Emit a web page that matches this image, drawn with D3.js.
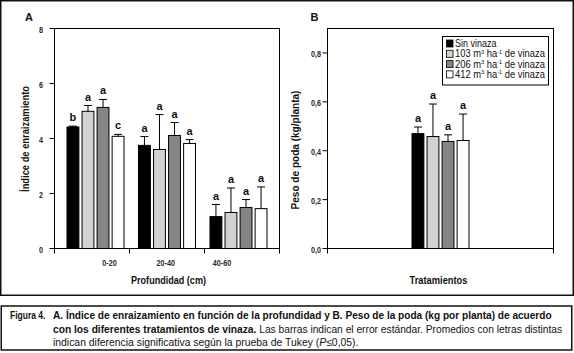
<!DOCTYPE html>
<html>
<head>
<meta charset="utf-8">
<script src="https://cdn.jsdelivr.net/npm/d3@7"></script>
<style>
  body { margin: 0; background: #fff; }
  svg { display: block; font-family: 'Liberation Sans', Arial, sans-serif; }
  .tick-label { font-size: 8.5px; font-weight: bold; fill: #2a2a2a; }
  .axis-title { font-size: 10px; font-weight: bold; fill: #111; }
  .letter { font-size: 11px; font-weight: bold; fill: #111; }
  .caption { font-size: 11px; fill: #111; }
</style>
</head>
<body>
<svg id="chart" width="574" height="353"></svg>
<script>
// ---- data ----
const depths = ['0-20', '20-40', '40-60'];
const treatments = ['Sin vinaza', '103 m³ ha⁻¹ de vinaza', '206 m³ ha⁻¹ de vinaza', '412 m³ ha⁻¹ de vinaza'];
const treatmentFill = ['#000000', '#d2d2d2', '#858585', '#ffffff'];

// panel A: rooting index by depth (rows) and treatment (cols)
const rootIndex = [
    [4.42, 4.99, 5.13, 4.08],
    [3.75, 3.60, 4.11, 3.82],
    [1.16, 1.31, 1.49, 1.45]
];
const rootErr = [
    [0.03, 0.21, 0.29, 0.07],
    [0.32, 1.27, 0.47, 0.14],
    [0.44, 0.89, 0.29, 0.79]
];
const rootLetters = [
    ['b', 'a', 'a', 'c'],
    ['a', 'a', 'a', 'a'],
    ['a', 'a', 'a', 'a']
];
const ticksA = [0, 2, 4, 6, 8];

// panel B: pruning weight by treatment
const pruneWeight = [0.470, 0.458, 0.438, 0.442];
const pruneErr = [0.027, 0.133, 0.027, 0.108];
const pruneLetters = ['a', 'a', 'a', 'a'];
const ticksB = [0, 0.2, 0.4, 0.6, 0.8];

const svg = d3.select('#chart');

// the original uses a narrow font: squeeze text horizontally to a given width
// (x, y = anchor point, rot = optional rotation)
function fit(sel, x, y, w, rot) {
    sel.each(function () {
        const k = w / this.getComputedTextLength();
        d3.select(this).attr('x', 0).attr('y', 0)
            .attr('transform', `translate(${x},${y})${rot ? ` rotate(${rot})` : ''} scale(${k},1)`);
    });
}
function condense(sel, k) {
    sel.each(function () {
        const x = +this.getAttribute('x'), y = +this.getAttribute('y');
        d3.select(this).attr('x', 0).attr('y', 0)
            .attr('transform', `translate(${x},${y}) scale(${k},1)`);
    });
}

// frames around figure and caption
svg.append('rect').attr('x', 0.75).attr('y', 0.75).attr('width', 572.5).attr('height', 294.5)
    .attr('fill', 'none').attr('stroke', '#111').attr('stroke-width', 1.5);
svg.append('rect').attr('x', 1.25).attr('y', 306).attr('width', 570.5).attr('height', 44)
    .attr('fill', 'none').attr('stroke', '#111').attr('stroke-width', 1.5);

// bar position inside a group
const inner = d3.scaleBand().domain(treatments).range([0, 57]).paddingInner(0.21);

function drawFrame(g, x0, x1, y0, y1) {
    g.append('rect').attr('x', x0).attr('y', y1).attr('width', x1 - x0).attr('height', y0 - y1)
        .attr('fill', 'none').attr('stroke', '#000').attr('stroke-width', 1);
}

function drawBar(g, x, w, yScale, v, e, letter) {
    const top = yScale(v), errTop = yScale(v + e), cx = x + w / 2;
    g.append('rect').attr('x', x).attr('y', top).attr('width', w).attr('height', yScale(0) - top)
        .attr('stroke', '#000').attr('stroke-width', 1);
    g.append('line').attr('x1', cx).attr('x2', cx).attr('y1', top).attr('y2', errTop)
        .attr('stroke', '#000').attr('stroke-width', 1);
    g.append('line').attr('x1', cx - 4).attr('x2', cx + 4).attr('y1', errTop).attr('y2', errTop)
        .attr('stroke', '#000').attr('stroke-width', 1);
    g.append('text').attr('class', 'letter').attr('x', cx).attr('y', errTop - 5)
        .attr('text-anchor', 'middle').attr('fill', '#111').text(letter);
}

function yAxis(g, scale, x, ticks, fmt, gap) {
    ticks.forEach(t => {
        g.append('line').attr('x1', x - 5).attr('x2', x).attr('y1', scale(t)).attr('y2', scale(t))
            .attr('stroke', '#000');
        g.append('text').attr('class', 'tick-label').attr('x', x - gap).attr('y', scale(t) + 4.5)
            .attr('text-anchor', 'end').text(fmt(t));
    });
}

// ---------- panel A ----------
const gA = svg.append('g');
const yA = d3.scaleLinear().domain([0, 8]).range([248.5, 28.5]);
const xEdgeA = d3.scaleLinear().domain([0, 3]).range([54.5, 279.5]);
const xGroupA = d3.scaleLinear().domain([0, 2]).range([95.5, 238.5]);
const xLabelA = d3.scaleLinear().domain([0, 2]).range([109.5, 222]);

drawFrame(gA, 54.5, 279.5, 248.5, 28.5);
yAxis(gA, yA, 54.5, ticksA, d3.format('d'), 11.5);
[0, 1, 2, 3].forEach(i => {
    gA.append('line').attr('x1', xEdgeA(i)).attr('x2', xEdgeA(i)).attr('y1', 248.5).attr('y2', 253.5)
        .attr('stroke', '#000');
});
depths.forEach((d, i) => {
    gA.append('text').attr('class', 'tick-label').attr('x', xLabelA(i)).attr('y', 265.5)
        .attr('text-anchor', 'middle').text(d);
    const g0 = xGroupA(i) - 28.5;
    treatments.forEach((t, j) => {
        drawBar(gA.append('g').attr('fill', treatmentFill[j]), g0 + inner(t), inner.bandwidth(),
            yA, rootIndex[i][j], rootErr[i][j], rootLetters[i][j]);
    });
});
gA.append('text').attr('class', 'axis-title').attr('text-anchor', 'middle')
    .text('Profundidad (cm)').call(fit, 168.5, 283.5, 75);
gA.append('text').attr('class', 'axis-title').attr('text-anchor', 'middle')
    .text('Índice de enraizamiento').call(fit, 29, 139, 106, -90);
gA.append('text').attr('x', 29).attr('y', 20.5).attr('text-anchor', 'middle').attr('fill', '#111')
    .style('font-size', '11px').style('font-weight', 'bold').text('A');

// ---------- panel B ----------
const gB = svg.append('g');
const yB = d3.scaleLinear().domain([0, 0.9]).range([248.5, 28.5]);
const x0B = 327.5, x1B = 553.5;
drawFrame(gB, x0B, x1B, 248.5, 28.5);
yAxis(gB, yB, x0B, ticksB, d => d3.format('.1f')(d).replace('.', ','), 6.5);
[x0B, x1B].forEach(x => {
    gB.append('line').attr('x1', x).attr('x2', x).attr('y1', 248.5).attr('y2', 253.5).attr('stroke', '#000');
});
const gStartB = (x0B + x1B) / 2 - 28.5;
treatments.forEach((t, j) => {
    drawBar(gB.append('g').attr('fill', treatmentFill[j]), gStartB + inner(t), inner.bandwidth(),
        yB, pruneWeight[j], pruneErr[j], pruneLetters[j]);
});
gB.append('text').attr('class', 'axis-title').attr('text-anchor', 'middle')
    .text('Tratamientos').call(fit, 438.5, 283.5, 58);
gB.append('text').attr('class', 'axis-title').attr('text-anchor', 'middle')
    .text('Peso de poda (kg/planta)').call(fit, 299, 150, 119, -90);
gB.append('text').attr('x', 314.5).attr('y', 20.5).attr('text-anchor', 'middle').attr('fill', '#111')
    .style('font-size', '11px').style('font-weight', 'bold').text('B');

svg.selectAll('.tick-label').call(condense, 0.85);

// legend
const leg = gB.append('g').attr('transform', 'translate(442.5,36.5)');
leg.append('rect').attr('width', 106).attr('height', 48.5).attr('fill', '#fff')
    .attr('stroke', '#000').attr('stroke-width', 1);
treatments.forEach((t, j) => {
    const base = 10.5 + j * 10.3;
    leg.append('rect').attr('x', 4).attr('y', base - 7).attr('width', 6.5).attr('height', 7)
        .attr('fill', treatmentFill[j]).attr('stroke', '#000').attr('stroke-width', 0.8);
    const tx = leg.append('text').style('font-size', '10px').attr('fill', '#111');
    const m = t.match(/^(\d+) m³ ha⁻¹ (.*)$/);
    if (m) {
        tx.append('tspan').text(m[1] + ' m');
        tx.append('tspan').text('3').attr('dy', -3.5).style('font-size', '6px');
        tx.append('tspan').text(' ha').attr('dy', 3.5);
        tx.append('tspan').text('-1').attr('dy', -3.5).style('font-size', '6px');
        tx.append('tspan').text(' ' + m[2]).attr('dy', 3.5);
        tx.call(fit, 12.5, base, 90);
    } else {
        tx.text(t).call(fit, 12.5, base, 41.5);
    }
});

// ---------- caption ----------
const cap = svg.append('g');
cap.append('text').attr('class', 'caption').style('font-weight', 'bold')
    .text('Figura 4.').call(fit, 10, 319, 35.5);
cap.append('text').attr('class', 'caption').style('font-weight', 'bold')
    .text('A. Índice de enraizamiento en función de la profundidad y B. Peso de la poda (kg por planta) de acuerdo')
    .call(fit, 53, 319, 499);
const l2 = cap.append('text').attr('class', 'caption');
l2.append('tspan').style('font-weight', 'bold').text('con los diferentes tratamientos de vinaza.');
l2.append('tspan').text(' Las barras indican el error estándar. Promedios con letras distintas');
l2.call(fit, 53, 332.5, 510);
const l3 = cap.append('text').attr('class', 'caption');
l3.append('tspan').text('indican diferencia significativa según la prueba de Tukey (');
l3.append('tspan').style('font-style', 'italic').text('P');
l3.append('tspan').text('≤0,05).');
l3.call(fit, 53, 345.5, 306);
</script>
</body>
</html>
